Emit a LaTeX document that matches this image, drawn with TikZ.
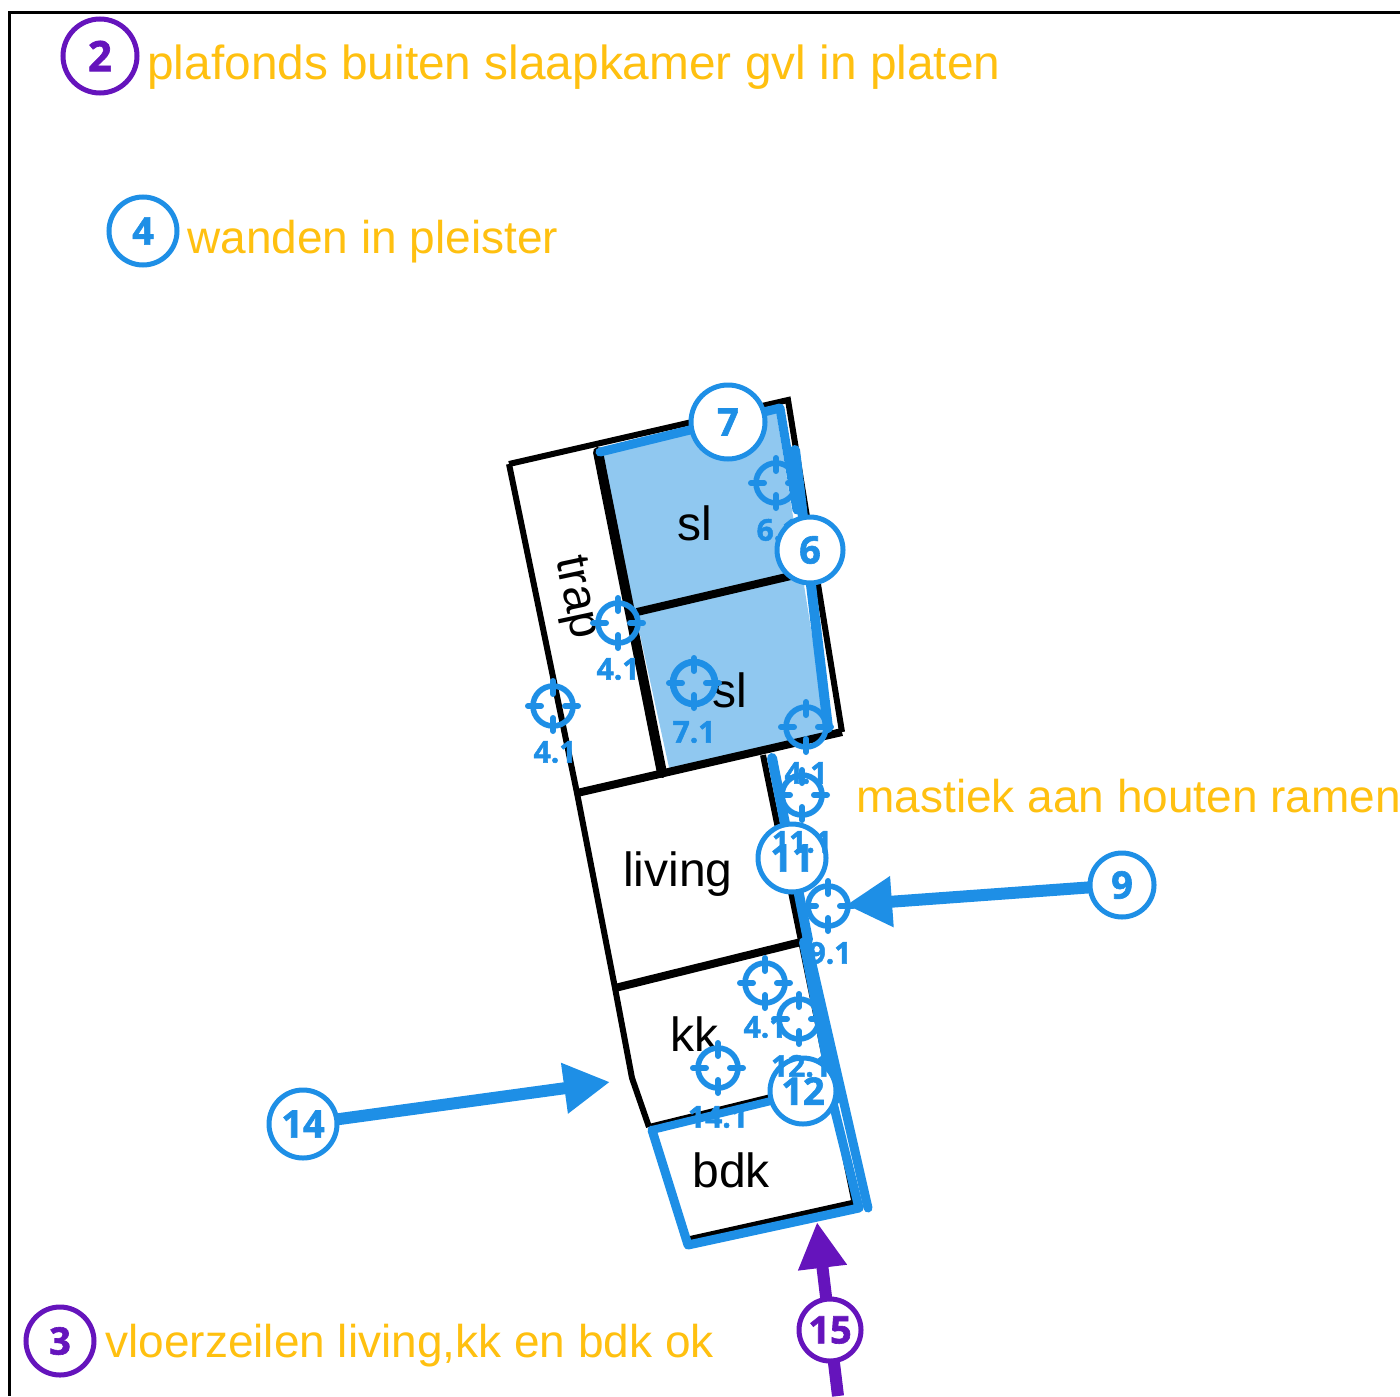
\documentclass[tikz,border=0pt]{standalone}
\usepackage{fontspec}
\setmainfont{Liberation Sans}
\newfontfamily\numf{Open Sans}[BoldFeatures={FakeBold=1.6}]
\usetikzlibrary{arrows.meta}
\definecolor{bl}{HTML}{1E8FE6}
\definecolor{lb}{HTML}{90C8F0}
\definecolor{pu}{HTML}{6514BC}
\definecolor{ye}{HTML}{FFC010}
\tikzset{
 x=0.5pt,y=-0.5pt,
 wall/.style={draw=black,line width=3pt,line join=miter},
 thick wall/.style={draw=black,line width=4pt},
 heavy wall/.style={draw=black,line width=5pt,line cap=round},
 blue line/.style={draw=bl,line width=5pt,line cap=round,line join=round},
 big/.style={circle,draw=bl,fill=white,line width=2.5pt,inner sep=0pt,outer sep=0pt,text=bl,font=\numf\bfseries\fontsize{19}{19}\selectfont},
 pbig/.style={big,draw=pu,text=pu},
 tc/.style={circle,draw=bl,line width=2.8pt,inner sep=0pt,outer sep=0pt,minimum size=20pt},
 tick/.style={draw=bl,line width=3pt,line cap=round},
 tl/.style={text=bl,inner sep=0pt,font=\numf\bfseries\fontsize{15}{15}\selectfont},
 note/.style={text=ye,anchor=base west,inner sep=0pt,font=\fontsize{23}{28}\selectfont},
 room/.style={text=black,inner sep=0pt,font=\fontsize{24}{28}\selectfont},
 arr/.style={draw=bl,line width=6pt,-{Triangle[length=23pt,width=24pt]}},
 parr/.style={draw=pu,line width=6pt,-{Triangle[length=23pt,width=23pt]}},
}
\newcommand{\tgt}[6]{%
 \node[tc] (t#1) at (#2,#3) {};
 \draw[tick] (#2,#3) ++(0,-25) -- ++(0,13);
 \draw[tick] (#2,#3) ++(0,25) -- ++(0,-13);
 \draw[tick] (#2,#3) ++(-25,0) -- ++(13,0);
 \draw[tick] (#2,#3) ++(25,0) -- ++(-13,0);
 \node[tl] (l#1) at (#4,#5) {#6};
}
\begin{document}
\begin{tikzpicture}
\useasboundingbox (0,0) rectangle (1400,1396);
% frame
\coordinate (fa) at (1400,13);
\coordinate (fb) at (9,13);
\coordinate (fc) at (9,1396);
\draw[black,line width=1.5pt] (fa) -- (fb) -- (fc);
% fill
\fill[lb] (600,452) -- (776,410) -- (828,735) -- (670,772) -- cycle;
% plan
\draw[wall] (509,464) -- (788,400) -- (842,732);
\draw[wall] (509,464) -- (577,793) -- (615,988) -- (632,1078) -- (649,1127);
\draw[thick wall] (577,793) -- (842,732);
\draw[heavy wall] (598,452) -- (662,773);
\draw[thick wall] (637,612) -- (795,575);
\draw[wall] (763,755) -- (855,1205);
\draw[thick wall] (615,988) -- (801,942);
\draw[wall] (649,1127) -- (775,1096);
\draw[wall] (690,1239) -- (852,1203);
% blue lines
\draw[blue line,line width=4.5pt] (600,452) -- (780,408) -- (797,510);
\draw[blue line] (795,450) -- (828,728);
\draw[blue line] (772,758) -- (808,940);
\draw[blue line,line width=4.5pt] (807,942) -- (868,1208);
\draw[blue line] (804,942) -- (835,1100);
\draw[blue line,line width=4pt] (652,1130) -- (775,1100);
\draw[blue line,line width=4.5pt] (652,1130) -- (688,1245) -- (859,1208) -- (833,1103);
% room labels
\node[room] (rsl1) at (695,523) {sl};
\node[room] (rsl2) at (730,690) {sl};
\node[room,rotate=-78] (rtrap) at (575,598) {trap};
\node[room] (rliv) at (678,874) {living};
\node[room] (rkk) at (694,1034) {kk};
\node[room] (rbdk) at (731,1170) {bdk};
% notes
\node[note,font=\fontsize{23.9}{28}\selectfont] (n2) at (147,80) {plafonds buiten slaapkamer gvl in platen};
\node[note] (n4) at (187,253) {wanden in pleister};
\node[note] (n11) at (856,812) {mastiek aan houten ramen};
\node[note] (n3) at (105,1357) {vloerzeilen living,kk en bdk ok};
% numbered circles
\node[big,minimum size=32pt] (c9) at (1122,885) {9};
\node[big,minimum size=34pt] (c14) at (303,1124) {14};
\node[pbig,minimum size=31pt] (c15) at (830,1330) {15};
\node[big,minimum size=34pt] (c11) at (792,858) {11};
\node[big,minimum size=33pt] (c12) at (803,1091) {12};
\node[big,minimum size=37pt] (c7) at (728,422) {7};
\node[pbig,minimum size=37pt,font=\numf\bfseries\fontsize{21}{21}\selectfont] (c2) at (100,56) {2};
\node[big,minimum size=34pt] (c4) at (143,231) {4};
\node[pbig,minimum size=34pt] (c3) at (60,1341) {3};
% arrows
\coordinate (tip9) at (846,905);
\coordinate (tip14) at (610,1082);
\coordinate (tip15) at (817,1222);
\coordinate (tail15) at (838,1396);
\draw[arr] (c9) -- (tip9);
\draw[arr] (c14) -- (tip14);
\draw[parr] (c15) -- (tip15);
\draw[draw=pu,line width=6pt] (c15) -- (tail15);
% targets
\tgt{a}{618}{623}{618}{669}{4.1}
\tgt{b}{553}{706}{555}{752}{4.1}
\begin{scope}[tc/.append style={minimum size=21pt,line width=3.3pt}]
\tgt{c}{694}{683}{694}{732}{7.1}
\end{scope}
\tgt{d}{776}{483}{778}{530}{6.1}
\tgt{e}{806}{727}{806}{773}{4.1}
\tgt{f}{802}{795}{802}{842}{11.1}
\tgt{g}{828}{906}{830}{953}{9.1}
\tgt{h}{765}{983}{765}{1027}{4.1}
\tgt{i}{799}{1019}{801}{1066}{12.1}
\tgt{j}{718}{1068}{718}{1117}{14.1}
\node[big,minimum size=33pt] (c6) at (810,550) {6};
\end{tikzpicture}
\end{document}
